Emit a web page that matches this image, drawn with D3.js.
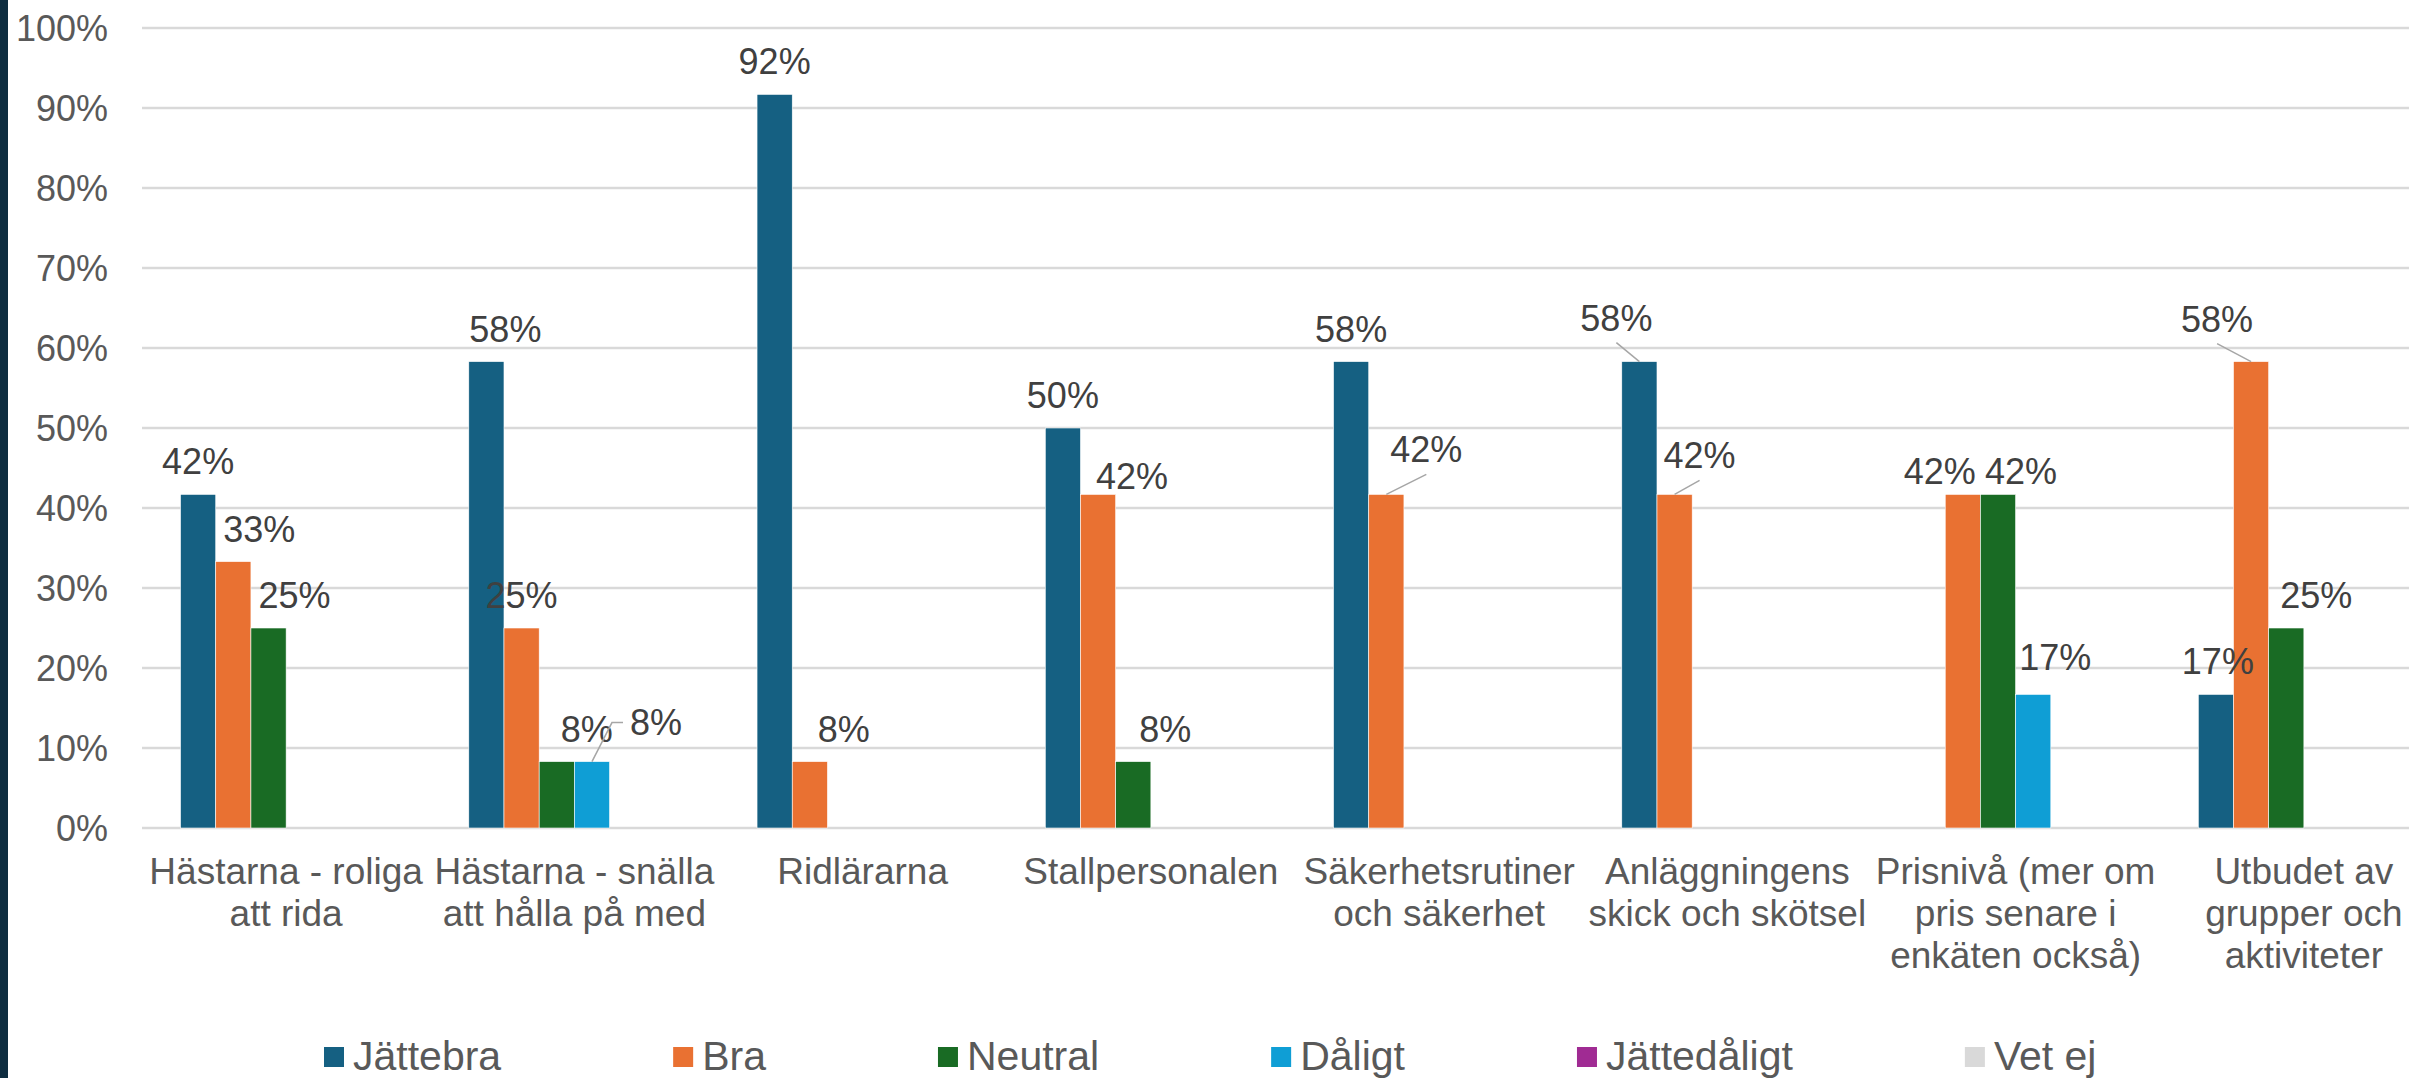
<!DOCTYPE html>
<meta charset="utf-8">
<head>
<style>
body { margin: 0; background: #fff; }
text { font-family: "Liberation Sans", Arial, sans-serif; }
.tick-label { font-size: 36px; fill: #595959; }
.cat-label { font-size: 37px; fill: #595959; }
.value-label { font-size: 36px; fill: #404040; }
.legend text { font-size: 41px; fill: #595959; }
</style>
</head>
<body>
<div id="chart"></div>
<script src="https://cdn.jsdelivr.net/npm/d3@7"></script>
<script>

// categories (wrapped the way the axis shows them)
var categories = [
  ["Hästarna - roliga", "att rida"],
  ["Hästarna - snälla", "att hålla på med"],
  ["Ridlärarna"],
  ["Stallpersonalen"],
  ["Säkerhetsrutiner", "och säkerhet"],
  ["Anläggningens", "skick och skötsel"],
  ["Prisnivå (mer om", "pris senare i", "enkäten också)"],
  ["Utbudet av", "grupper och", "aktiviteter"]
];

var seriesNames = ["Jättebra", "Bra", "Neutral", "Dåligt", "Jättedåligt", "Vet ej"];

// percent per category, null = no bar
var jattebra    = [41.7, 58.3, 91.7, 50.0, 58.3, 58.3, null, 16.7];
var bra         = [33.3, 25.0, 8.3, 41.7, 41.7, 41.7, 41.7, 58.3];
var neutral     = [25.0, 8.3, null, 8.3, null, null, 41.7, 25.0];
var daligt      = [null, 8.3, null, null, null, null, 16.7, null];
var jattedaligt = [null, null, null, null, null, null, null, null];
var vetej       = [null, null, null, null, null, null, null, null];

var yTicks = [0, 10, 20, 30, 40, 50, 60, 70, 80, 90, 100];

var seriesValues = [jattebra, bra, neutral, daligt, jattedaligt, vetej];
var colors = ["#156082", "#E97132", "#196B24", "#0F9ED5", "#A02B93", "#D9D9D9"];

// hand-moved data labels: [category, series, dx, dy, leader]
var labelMoves = [
  [0, 1, 26, 0, ""], [0, 2, 26, 0, ""],
  [1, 0, 19, 0, ""], [1, 2, 30, 0, ""], [1, 3, 64, -7, "side"],
  [2, 1, 34, 0, ""],
  [3, 1, 34, 15, ""], [3, 2, 32, 0, ""],
  [4, 1, 40, -12, "bottom"],
  [5, 0, -23, -11, "bottom"], [5, 1, 25, -6, "bottom"],
  [6, 1, -23, 10, ""], [6, 2, 23, 10, ""], [6, 3, 22, -4, ""],
  [7, 0, 2, 0, ""], [7, 1, -34, -10, "bottom"], [7, 2, 30, 0, ""]
];

var W = 2409, H = 1078;
var plotLeft = 142, plotRight = 2448, plotTop = 28, plotBottom = 828;

var svg = d3.select("#chart").append("svg")
    .attr("width", W)
    .attr("height", H);

// dark strip on the left edge
svg.append("rect")
    .attr("x", 0).attr("y", 0)
    .attr("width", 8).attr("height", H)
    .style("fill", "#0E2D40");

var x0 = d3.scaleBand()
    .domain(d3.range(categories.length))
    .range([plotLeft, plotRight])
    .padding(0);

var x1 = d3.scaleBand()
    .domain(d3.range(seriesNames.length))
    .range([0, x0.bandwidth()])
    .paddingInner(0)
    .paddingOuter(1.095);

var y = d3.scaleLinear()
    .domain([0, 100])
    .range([plotBottom, plotTop]);

// gridlines
svg.append("g")
  .selectAll("line")
  .data(yTicks)
  .enter()
  .append("line")
    .attr("x1", plotLeft)
    .attr("x2", W)
    .attr("y1", function(d) { return y(d); })
    .attr("y2", function(d) { return y(d); })
    .style("stroke", "#D9D9D9")
    .style("stroke-width", 2.5);

// y tick labels
svg.append("g")
  .selectAll("text")
  .data(yTicks)
  .enter()
  .append("text")
    .attr("class", "tick-label")
    .attr("x", 108)
    .attr("y", function(d) { return y(d); })
    .attr("dy", "0.35em")
    .style("text-anchor", "end")
    .text(function(d) { return d + "%"; });

// flatten bars
var bars = [];
seriesValues.forEach(function(vals, s) {
  vals.forEach(function(v, c) {
    if (v != null) bars.push({c: c, s: s, v: v});
  });
});

svg.append("g")
  .selectAll("rect")
  .data(bars)
  .enter()
  .append("rect")
    .attr("x", function(d) { return x0(d.c) + x1(d.s); })
    .attr("y", function(d) { return y(d.v); })
    .attr("width", x1.bandwidth())
    .attr("height", function(d) { return y(0) - y(d.v); })
    .style("fill", function(d) { return colors[d.s]; })
    .style("stroke", "#fff")
    .style("stroke-width", 0.6);

// data labels
var moves = {};
labelMoves.forEach(function(m) { moves[m[0] + "_" + m[1]] = m; });

var labelG = svg.append("g");
bars.forEach(function(d) {
  var cx = x0(d.c) + x1(d.s) + x1.bandwidth() / 2;
  var top = y(d.v);
  var m = moves[d.c + "_" + d.s] || [d.c, d.s, 0, 0, ""];
  var lx = cx + m[2];
  var ly = top - 20 + m[3];

  if (m[4] == "bottom") {
    labelG.append("line")
      .attr("x1", cx).attr("y1", top)
      .attr("x2", lx).attr("y2", ly + 12)
      .style("stroke", "#A6A6A6")
      .style("stroke-width", 1.5);
  } else if (m[4] == "side") {
    var tw = 52;
    labelG.append("polyline")
      .attr("points", [[cx, top], [lx - tw / 2 - 18, ly - 12], [lx - tw / 2 - 7, ly - 12]].join(" "))
      .style("fill", "none")
      .style("stroke", "#A6A6A6")
      .style("stroke-width", 1.5);
  }

  labelG.append("text")
    .attr("class", "value-label")
    .attr("x", lx)
    .attr("y", ly)
    .style("text-anchor", "middle")
    .text(Math.round(d.v) + "%");
});

// category labels
var catG = svg.append("g")
  .selectAll("text")
  .data(categories)
  .enter()
  .append("text")
    .attr("class", "cat-label")
    .attr("x", function(d, i) { return x0(i) + x0.bandwidth() / 2; })
    .attr("y", 884)
    .style("text-anchor", "middle");

catG.selectAll("tspan")
  .data(function(d) { return d; })
  .enter()
  .append("tspan")
    .attr("x", function() { return d3.select(this.parentNode).attr("x"); })
    .attr("dy", function(d, i) { return i == 0 ? 0 : 42; })
    .text(function(d) { return d; });

// legend
var legendX = 324, swatch = 20, legendGap = 172;
var legend = svg.append("g").attr("class", "legend");
seriesNames.forEach(function(name, i) {
  var g = legend.append("g");
  g.append("rect")
    .attr("x", legendX)
    .attr("y", 1047)
    .attr("width", swatch)
    .attr("height", swatch)
    .style("fill", colors[i]);
  var t = g.append("text")
    .attr("x", legendX + 29)
    .attr("y", 1070)
    .text(name);
  legendX += 29 + t.node().getComputedTextLength() + legendGap;
});

</script>
</body>
